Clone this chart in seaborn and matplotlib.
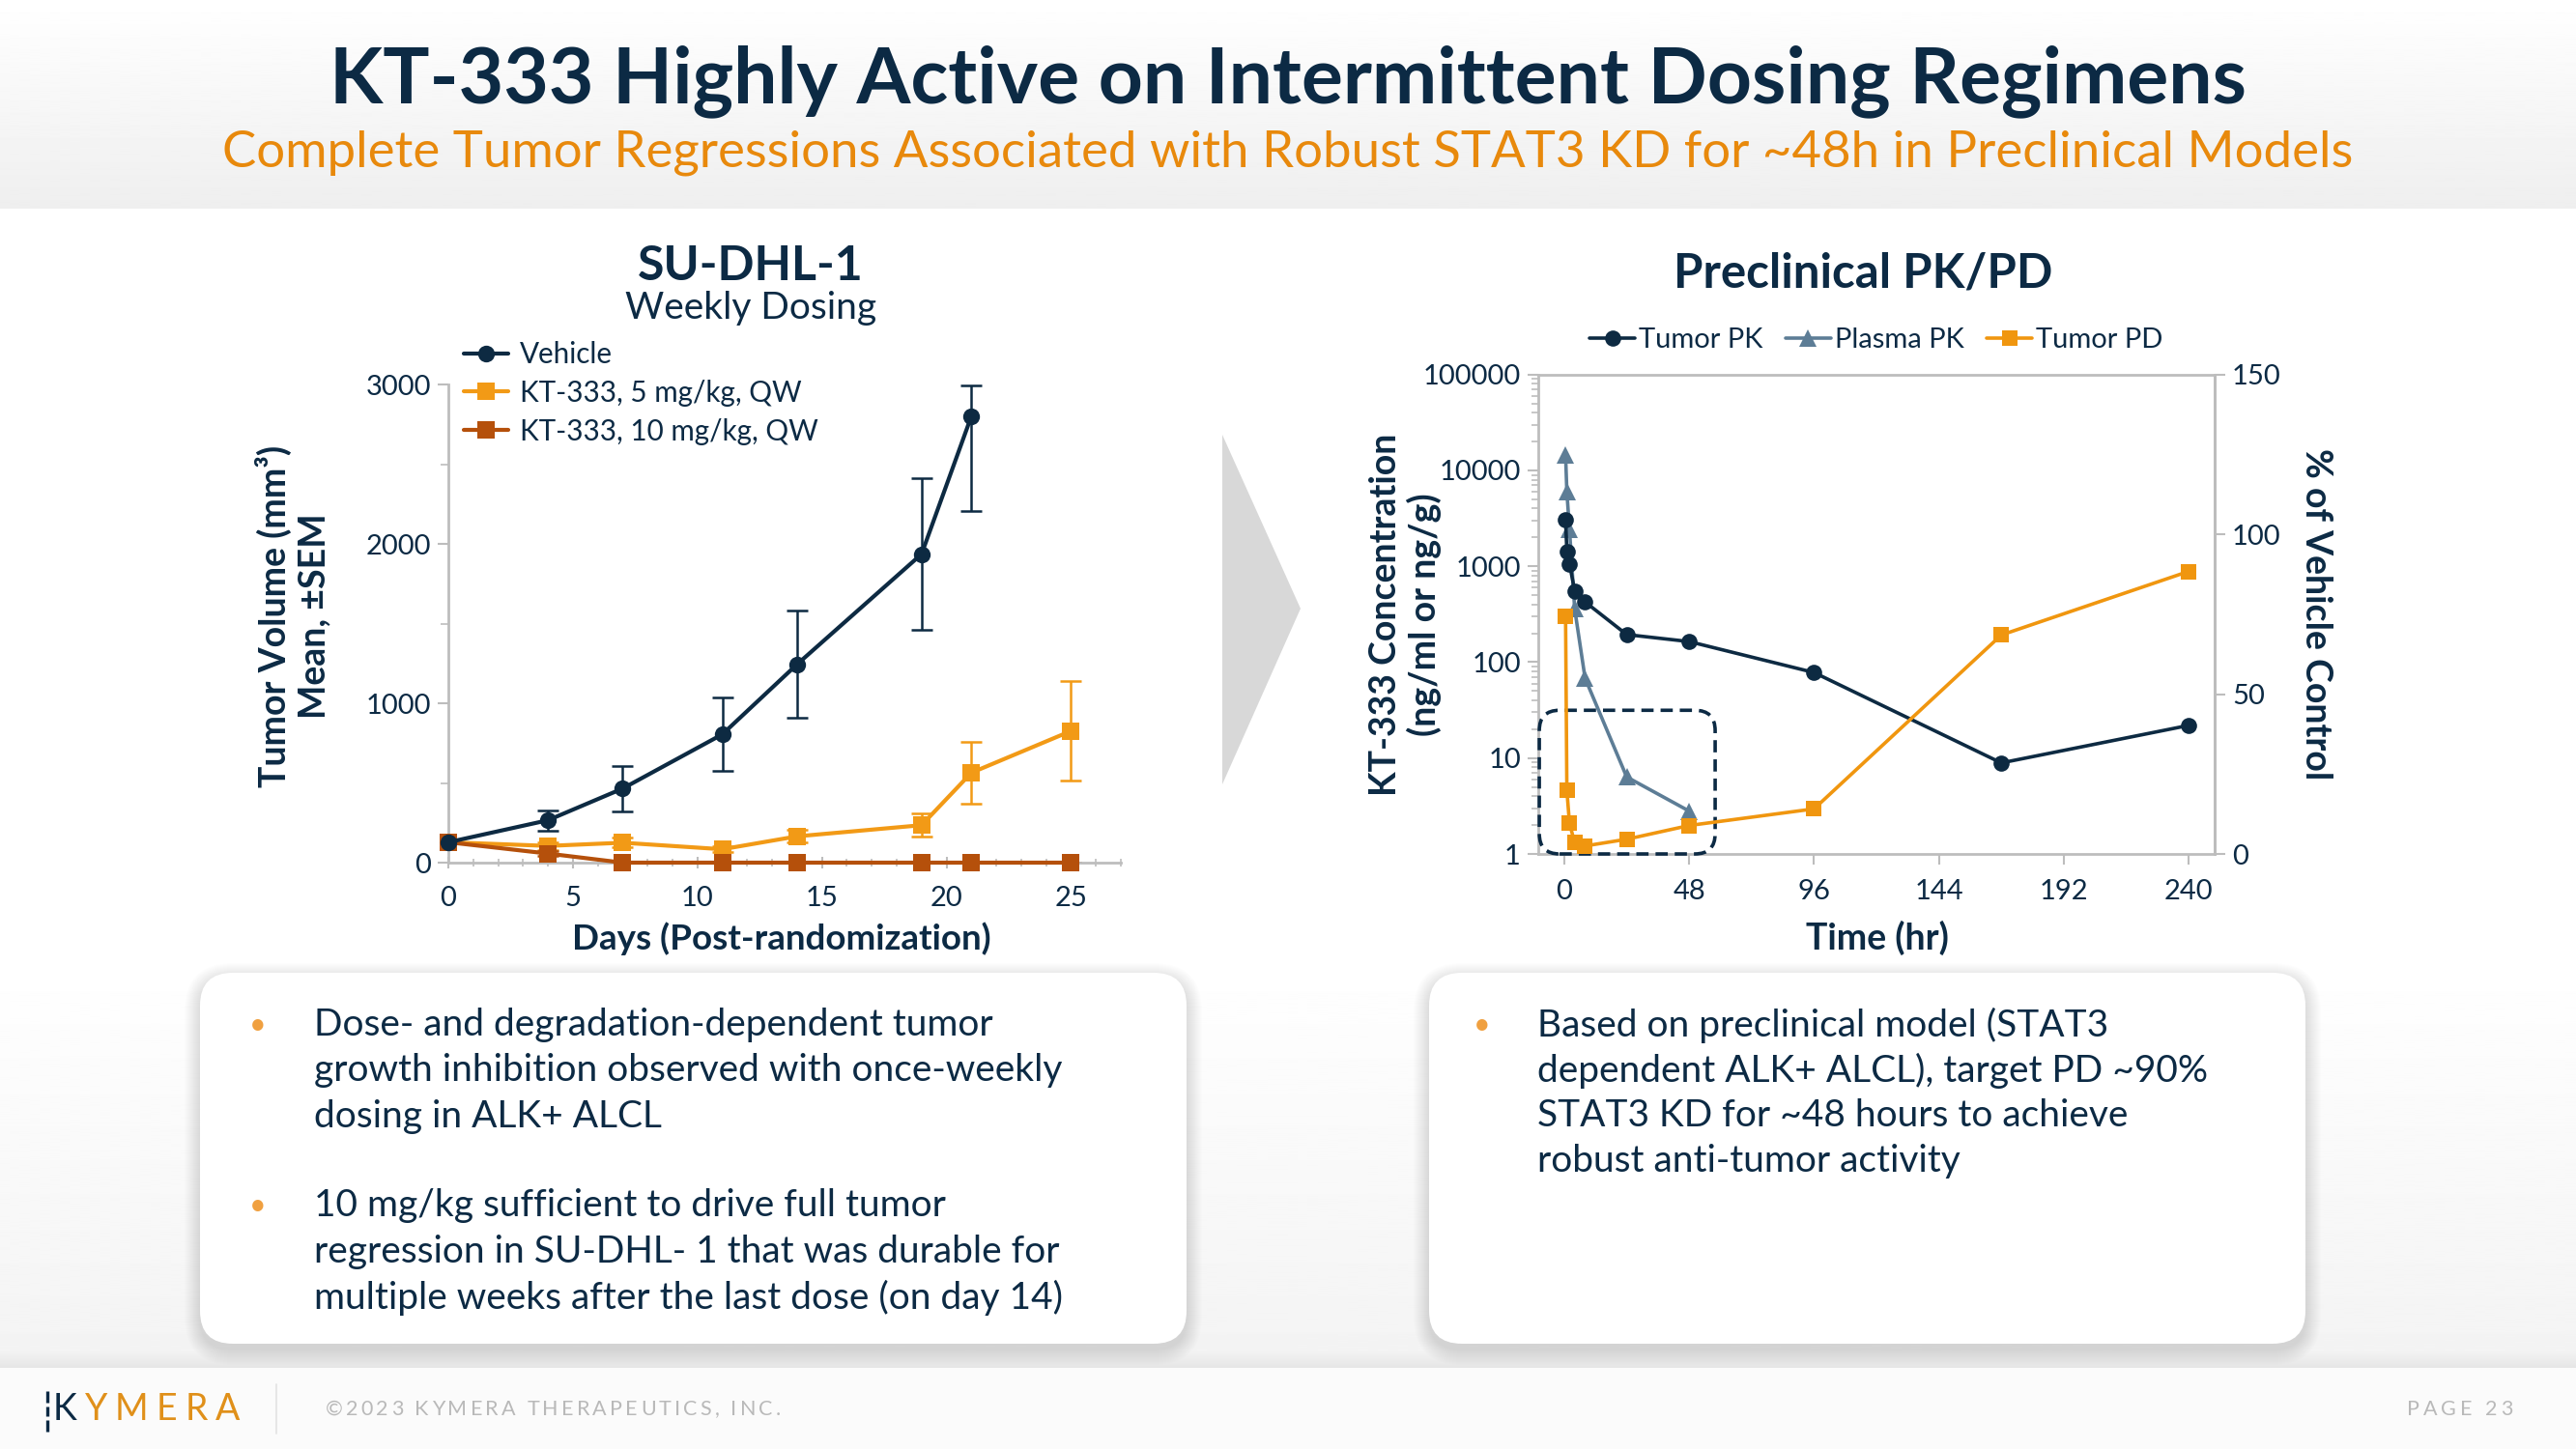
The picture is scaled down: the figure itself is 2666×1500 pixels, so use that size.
import numpy as np
import pandas as pd
import matplotlib
matplotlib.use("Agg")
import matplotlib.pyplot as plt
import seaborn as sns
from matplotlib.patches import FancyBboxPatch, Polygon
from matplotlib.lines import Line2D
from matplotlib.ticker import FixedLocator, MultipleLocator, NullFormatter, LogLocator, FixedFormatter

# ---------------- data ----------------
left_series = ["Vehicle", "KT-333, 5 mg/kg, QW", "KT-333, 10 mg/kg, QW"]
days = [0, 4, 7, 11, 14, 19, 21, 25]
vehicle_days = [0, 4, 7, 11, 14, 19, 21]
vehicle_vol = [128, 266, 465, 805, 1244, 1936, 2801]
vehicle_sem_lo = [0, 64, 143, 230, 335, 478, 596]
vehicle_sem_hi = [0, 64, 143, 230, 335, 478, 194]
kt5_vol = [128, 105, 125, 84, 165, 235, 564, 826]
kt5_sem = [0, 25, 30, 20, 40, 73, 193, 313]
kt10_vol = [128, 57, 0, 0, 0, 0, 0, 0]
kt10_sem = [0, 15, 0, 0, 0, 0, 0, 0]
left_xticks = [0, 5, 10, 15, 20, 25]
left_yticks = [0, 1000, 2000, 3000]

right_series = ["Tumor PK", "Plasma PK", "Tumor PD"]
pk_time = [0.5, 1, 2, 4, 8, 24, 48, 96, 168, 240]
tumor_pk = [3050, 1435, 1064, 555, 425, 194, 164, 78, 8.9, 21.9]
plasma_time = [0.5, 1, 2, 4, 8, 24, 48]
plasma_pk = [14350, 5970, 2430, 360, 68, 6.35, 2.8]
pd_time = [0.5, 1, 2, 4, 8, 24, 48, 96, 168, 240]
tumor_pd = [74.3, 19.9, 9.6, 3.5, 2.5, 4.6, 8.9, 14.1, 68.5, 88.4]
right_xticks = [0, 48, 96, 144, 192, 240]
right_yticks = [1, 10, 100, 1000, 10000, 100000]
right_y2ticks = [0, 50, 100, 150]

title = "KT-333 Highly Active on Intermittent Dosing Regimens"
subtitle = "Complete Tumor Regressions Associated with Robust STAT3 KD for ~48h in Preclinical Models"
left_bullets = [
    ["Dose- and degradation-dependent tumor",
     "growth inhibition observed with once-weekly",
     "dosing in ALK+ ALCL"],
    ["10 mg/kg sufficient to drive full tumor",
     "regression in SU-DHL- 1 that was durable for",
     "multiple weeks after the last dose (on day 14)"],
]
right_bullets = [
    ["Based on preclinical model (STAT3",
     "dependent ALK+ ALCL), target PD ~90%",
     "STAT3 KD for ~48 hours to achieve",
     "robust anti-tumor activity"],
]

# ---------------- style ----------------
sns.set_theme(style="white")
plt.rcParams["font.family"] = ["Lato", "DejaVu Sans"]

NAVY = "#0c2a44"
ORANGE = "#e8890c"
C_VEH = "#0d2a42"
C_5 = "#f29a16"
C_10 = "#b5500b"
C_PLASMA = "#5d7d96"
C_PD = "#f0960f"
GRAY = "#bdbdbd"
W, H = 2666, 1500
LABEL_FS = 27

fig = plt.figure(figsize=(W / 100, H / 100), dpi=100)
fig.patch.set_facecolor("white")

# ---------------- background layer (pixel coordinates) ----------------
bg = fig.add_axes([0, 0, 1, 1], zorder=-10)
bg.axis("off")
grad = np.linspace(1.0, 0.935, 200)[:, None]
bg.imshow(grad, cmap="gray", vmin=0, vmax=1, extent=(0, W, 216, 0), aspect="auto")
grad2 = np.linspace(1.0, 0.955, 200)[:, None]
bg.imshow(grad2, cmap="gray", vmin=0, vmax=1, extent=(0, W, 1398, 990), aspect="auto")
grad3 = np.linspace(0.955, 0.90, 50)[:, None]
bg.imshow(grad3, cmap="gray", vmin=0, vmax=1, extent=(0, W, 1416, 1398), aspect="auto")
bg.add_patch(plt.Rectangle((0, 1416), W, 84, fc="#fbfbfb", ec="none"))

# text boxes with soft shadow
for (x0, y0, bw, bh) in [(207, 1007, 1021, 384), (1479, 1007, 907, 384)]:
    for i in range(16, 0, -1):
        bg.add_patch(FancyBboxPatch((x0 - i, y0 - i + 6), bw + 2 * i, bh + 2 * i,
                                    boxstyle="round,pad=0,rounding_size=%d" % (34 + i),
                                    fc="black", ec="none", alpha=0.009))
    bg.add_patch(FancyBboxPatch((x0, y0), bw, bh, boxstyle="round,pad=0,rounding_size=34",
                                fc="white", ec="none"))

# chevron
bg.add_patch(Polygon([(1265, 450), (1346, 630), (1265, 812)], closed=True, fc="#d8d8d8", ec="none"))

# titles
bg.text(1333, 84, title, ha="center", va="center", fontsize=58, weight="bold", color=NAVY)
bg.text(1333, 158, subtitle, ha="center", va="center", fontsize=38, color=ORANGE)
bg.text(777, 276, "SU-DHL-1", ha="center", va="center", fontsize=36, weight="bold", color=NAVY)
bg.text(777, 319, "Weekly Dosing", ha="center", va="center", fontsize=28, color=NAVY)
bg.text(1928, 283, "Preclinical PK/PD", ha="center", va="center", fontsize=35.5, weight="bold", color=NAVY)

# bullets
def bullet_block(x_dot, x_txt, y_first, paragraphs, step=47.5, gap=92):
    y = y_first
    for para in paragraphs:
        bg.text(x_dot, y, "\u2022", ha="center", va="center", fontsize=22, color="#f0a040")
        for line in para:
            bg.text(x_txt, y, line, ha="left", va="center", fontsize=28, color=NAVY)
            y += step
        y += gap - step

bullet_block(267, 325, 1061, left_bullets, step=47.5, gap=92)
bullet_block(1534, 1591, 1061, right_bullets, step=47)

# footer
renderer = fig.canvas.get_renderer()

def spaced(x, y, s, gap, colors=None, **kw):
    for i, ch in enumerate(s):
        c = colors[i] if colors else kw.get("color")
        kw2 = dict(kw)
        kw2["color"] = c
        t = bg.text(x, y, ch, ha="left", va="center", **kw2)
        w = t.get_window_extent(renderer).width
        if ch == " " and w < 2:
            w = kw.get("fontsize", 12) * 0.35
        x += w + gap
    return x

spaced(55, 1459, "KYMERA", 8, colors=[NAVY] + ["#e0901a"] * 5, fontsize=27, weight="normal")
for (ya, yb) in [(1440, 1452), (1456, 1466), (1470, 1482)]:
    bg.plot([49, 49], [ya, yb], color=NAVY, lw=2.4, solid_capstyle="butt")
bg.plot([286, 286], [1433, 1484], color="#e2e2e2", lw=1.2)
spaced(337, 1459, "\u00a92023 KYMERA THERAPEUTICS, INC.", 3.2, fontsize=15.5, color="#b9b9b9")
spaced(2491, 1459, "PAGE 23", 4.0, fontsize=15.5, color="#b9b9b9")

bg.set_xlim(0, W)
bg.set_ylim(H, 0)

# ---------------- left chart ----------------
ax1 = fig.add_axes([464 / W, 1 - 893 / H, (1160 - 464) / W, (893 - 398) / H])
ax1.patch.set_alpha(0)
df_left = pd.concat([
    pd.DataFrame({"day": vehicle_days, "vol": vehicle_vol, "group": left_series[0]}),
    pd.DataFrame({"day": days, "vol": kt5_vol, "group": left_series[1]}),
    pd.DataFrame({"day": days, "vol": kt10_vol, "group": left_series[2]}),
], ignore_index=True)
pal_left = {left_series[0]: C_VEH, left_series[1]: C_5, left_series[2]: C_10}
mk_left = {left_series[0]: "o", left_series[1]: "s", left_series[2]: "s"}

ax1.errorbar(vehicle_days, vehicle_vol, yerr=[vehicle_sem_lo, vehicle_sem_hi], fmt="none",
             ecolor=C_VEH, elinewidth=1.8, capsize=8, capthick=1.8, zorder=2)
ax1.errorbar(days, kt5_vol, yerr=kt5_sem, fmt="none", ecolor=C_5, elinewidth=1.8,
             capsize=8, capthick=1.8, zorder=2)
ax1.errorbar(days, kt10_vol, yerr=kt10_sem, fmt="none", ecolor=C_10, elinewidth=1.8,
             capsize=8, capthick=1.8, zorder=2)
sns.lineplot(data=df_left, x="day", y="vol", hue="group", style="group", hue_order=left_series,
             style_order=left_series, palette=pal_left, markers=mk_left, dashes=False,
             errorbar=None, legend=False, ax=ax1, linewidth=3.0, markersize=12.5,
             markeredgewidth=0, clip_on=False, zorder=3)
for ln in ax1.lines:
    if ln.get_color() == C_VEH:
        ln.set_zorder(4)

ax1.set_xlim(0, 27)
ax1.set_ylim(0, 3000)
ax1.xaxis.set_major_locator(FixedLocator(left_xticks))
ax1.xaxis.set_minor_locator(MultipleLocator(1))
ax1.yaxis.set_major_locator(FixedLocator(left_yticks))
ax1.yaxis.set_minor_locator(MultipleLocator(500))
for s in ["top", "right"]:
    ax1.spines[s].set_visible(False)
for s in ["left", "bottom"]:
    ax1.spines[s].set_color(GRAY)
    ax1.spines[s].set_linewidth(2)
ax1.tick_params(axis="both", which="major", length=8, width=1.5, color=GRAY,
                labelsize=21, labelcolor=NAVY, pad=5)
ax1.tick_params(axis="x", which="both", direction="inout")
ax1.tick_params(axis="x", which="major", pad=13)
ax1.tick_params(axis="both", which="minor", length=6, width=1.2, color=GRAY)
ax1.tick_params(axis="y", which="both", left=True)
ax1.tick_params(axis="x", which="both", bottom=True)
ax1.set_xlabel("Days (Post-randomization)", fontsize=LABEL_FS - 0.5, weight="bold", color=NAVY)
ax1.xaxis.set_label_coords(0.496, -0.158)
ax1.xaxis.label.set_va("center")
ax1.set_ylabel("Tumor Volume (mm\u00b3)\nMean, \u00b1SEM", fontsize=LABEL_FS, weight="bold",
               color=NAVY, linespacing=1.2)
ax1.yaxis.set_label_coords(-0.231, 0.515)
ax1.yaxis.label.set_va("center")

h_left = [Line2D([], [], color=pal_left[g], marker=mk_left[g], markersize=12.5, lw=3,
                 markeredgewidth=0) for g in left_series]
fig.legend(h_left, left_series, loc="upper left", bbox_to_anchor=(480 / W, 1 - 353 / H),
           bbox_transform=fig.transFigure, frameon=False, fontsize=21.3, borderpad=0,
           borderaxespad=0, handlelength=1.55, handletextpad=0.42, labelspacing=0.4,
           labelcolor=NAVY)

# ---------------- right chart ----------------
ax2 = fig.add_axes([1592 / W, 1 - 884 / H, (2292 - 1592) / W, (884 - 387.7) / H])
ax2.patch.set_alpha(0)
ax2.set_yscale("log")
sns.lineplot(x=pk_time, y=tumor_pk, ax=ax2, color=C_VEH, marker="o", markersize=12,
             linewidth=2.6, markeredgewidth=0, errorbar=None, legend=False, zorder=4, clip_on=False)
sns.lineplot(x=plasma_time, y=plasma_pk, ax=ax2, color=C_PLASMA, marker="^", markersize=13,
             linewidth=2.6, markeredgewidth=0, errorbar=None, legend=False, zorder=3, clip_on=False)
ax2.set_xlim(-10, 250)
ax2.set_ylim(1, 100000)
ax2.xaxis.set_major_locator(FixedLocator(right_xticks))
ax2.yaxis.set_major_locator(FixedLocator(right_yticks))
ax2.yaxis.set_major_formatter(FixedFormatter([str(v) for v in right_yticks]))
ax2.yaxis.set_minor_locator(LogLocator(base=10, subs=np.arange(2, 10), numticks=20))
ax2.yaxis.set_minor_formatter(NullFormatter())
for s in ax2.spines.values():
    s.set_color(GRAY)
    s.set_linewidth(2)
ax2.tick_params(axis="both", which="major", length=8, width=1.5, color=GRAY,
                labelsize=21, labelcolor=NAVY, pad=5, left=True, bottom=True)
ax2.tick_params(axis="x", which="major", pad=11)
ax2.tick_params(axis="y", which="minor", length=5, width=1.2, color=GRAY, left=True)
ax2.set_xlabel("Time (hr)", fontsize=LABEL_FS, weight="bold", color=NAVY)
ax2.xaxis.set_label_coords(0.501, -0.175)
ax2.xaxis.label.set_va("center")
ax2.set_ylabel("KT-333 Concentration\n(ng/ml or ng/g)", fontsize=LABEL_FS, weight="bold",
               color=NAVY, linespacing=1.15)
ax2.yaxis.set_label_coords(-0.196, 0.5)
ax2.yaxis.label.set_va("center")

ax3 = ax2.twinx()
sns.lineplot(x=pd_time, y=tumor_pd, ax=ax3, color=C_PD, marker="s", markersize=11,
             linewidth=2.6, markeredgewidth=0, errorbar=None, legend=False, zorder=3, clip_on=False)
ax3.set_ylim(0, 150)
ax3.yaxis.set_major_locator(FixedLocator(right_y2ticks))
for s in ["top", "left", "bottom"]:
    ax3.spines[s].set_visible(False)
ax3.spines["right"].set_color(GRAY)
ax3.spines["right"].set_linewidth(2)
ax3.tick_params(axis="y", which="major", length=8, width=1.5, color=GRAY, labelsize=21,
                labelcolor=NAVY, pad=5, right=True)
ax3.set_ylabel("% of Vehicle Control", fontsize=LABEL_FS, weight="bold", color=NAVY, rotation=270)
ax3.yaxis.set_label_coords(1.15, 0.5)
ax3.yaxis.label.set_va("center")

# dashed highlight box (x -9.6..58 h, y 1..31.5)
xl = ax2.get_xlim()
bx0 = (-9.6 - xl[0]) / (xl[1] - xl[0])
bx1 = (58 - xl[0]) / (xl[1] - xl[0])
by1 = np.log10(31.5) / 5
pw, ph = 2292 - 1592, 884 - 387.7
ax2.add_patch(FancyBboxPatch((bx0, 0.0), bx1 - bx0, by1, boxstyle="round,pad=0,rounding_size=0.03",
                             mutation_aspect=pw / ph, transform=ax2.transAxes, fill=False,
                             ec=NAVY, lw=2.6, ls=(0, (3.5, 2)), clip_on=False, zorder=6))

h_right = [
    Line2D([], [], color=C_VEH, marker="o", markersize=12, lw=2.6, markeredgewidth=0),
    Line2D([], [], color=C_PLASMA, marker="^", markersize=13, lw=2.6, markeredgewidth=0),
    Line2D([], [], color=C_PD, marker="s", markersize=11, lw=2.6, markeredgewidth=0),
]
fig.legend(h_right, right_series, loc="center", bbox_to_anchor=(1942 / W, 1 - 352 / H),
           bbox_transform=fig.transFigure, frameon=False, fontsize=21, ncol=3, borderpad=0,
           borderaxespad=0, handlelength=1.6, handletextpad=0.15, columnspacing=0.8,
           labelcolor=NAVY)

fig.savefig("out.png", dpi=100, facecolor="white")
